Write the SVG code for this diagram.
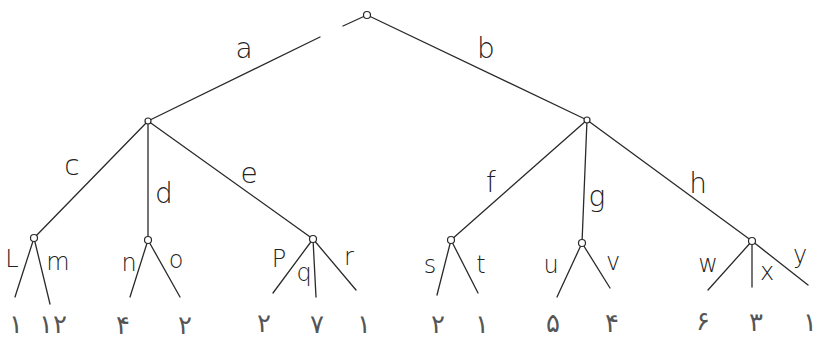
<svg xmlns="http://www.w3.org/2000/svg" width="819" height="339" viewBox="0 0 819 339">
<style>
.e{stroke:#2a2a2a;stroke-width:1.3;fill:none;stroke-linecap:round}
.n{fill:#fff;stroke:#2a2a2a;stroke-width:1.2}
.lb{font-family:"DejaVu Sans","Liberation Sans",sans-serif;font-weight:200;fill:#222;text-anchor:middle}
.el{font-size:28px}
.sl{font-size:24px}
.dg{font-family:"DejaVu Sans",sans-serif;font-weight:400;font-size:26px;fill:#555}
</style>
<rect width="819" height="339" fill="#fff"/>
<g id="connectors">
<line class="e" x1="367" y1="15" x2="343" y2="26"/>
<line class="e" x1="320" y1="37" x2="148" y2="121"/>
<line class="e" x1="367" y1="15" x2="587" y2="120"/>
<line class="e" x1="148" y1="121" x2="34" y2="238"/>
<line class="e" x1="148" y1="121" x2="148" y2="240"/>
<line class="e" x1="148" y1="121" x2="313" y2="239"/>
<line class="e" x1="587" y1="120" x2="451" y2="240"/>
<line class="e" x1="587" y1="120" x2="582" y2="243"/>
<line class="e" x1="587" y1="120" x2="752" y2="241"/>
<line class="e" x1="34" y1="238" x2="15" y2="297"/>
<line class="e" x1="34" y1="238" x2="50" y2="304"/>
<line class="e" x1="148" y1="240" x2="130" y2="297"/>
<line class="e" x1="148" y1="240" x2="180" y2="297"/>
<line class="e" x1="313" y1="239" x2="273" y2="293"/>
<line class="e" x1="313" y1="239" x2="316" y2="297"/>
<line class="e" x1="313" y1="239" x2="356" y2="290"/>
<line class="e" x1="451" y1="240" x2="437" y2="295"/>
<line class="e" x1="451" y1="240" x2="478" y2="293"/>
<line class="e" x1="582" y1="243" x2="557" y2="297"/>
<line class="e" x1="582" y1="243" x2="610" y2="288"/>
<line class="e" x1="752" y1="241" x2="708" y2="290"/>
<line class="e" x1="752" y1="241" x2="752" y2="287"/>
<line class="e" x1="752" y1="241" x2="808" y2="285"/>
<g class="lb el">
<text x="244" y="58">a</text>
<text x="486" y="58">b</text>
<text x="72" y="175">c</text>
<text x="164" y="203">d</text>
<text x="249" y="183">e</text>
<text x="491" y="192">f</text>
<text x="597" y="206">g</text>
<text x="698" y="193">h</text>
</g>
<g class="lb sl">
<text x="12" y="267">L</text>
<text x="58" y="270">m</text>
<text x="129" y="271">n</text>
<text x="176" y="268">o</text>
<text x="279" y="267">P</text>
<text x="304" y="281">q</text>
<text x="349" y="265">r</text>
<text x="430" y="273">s</text>
<text x="481" y="273">t</text>
<text x="551" y="273">u</text>
<text x="613" y="270">v</text>
<text x="708" y="272">w</text>
<text x="767" y="280">x</text>
<text x="800" y="263">y</text>
</g>
</g>
<g id="root"><circle class="n" cx="367" cy="15" r="3.5"/></g>
<g id="node-a"><circle class="n" cx="148" cy="121" r="3"/></g>
<g id="node-b"><circle class="n" cx="587" cy="120" r="3"/></g>
<g id="node-c"><circle class="n" cx="34" cy="238" r="3.5"/></g>
<g id="node-d"><circle class="n" cx="148" cy="240" r="3.5"/></g>
<g id="node-e"><circle class="n" cx="313" cy="239" r="3.5"/></g>
<g id="node-f"><circle class="n" cx="451" cy="240" r="3.5"/></g>
<g id="node-g"><circle class="n" cx="582" cy="243" r="3.5"/></g>
<g id="node-h"><circle class="n" cx="752" cy="241" r="3.5"/></g>
<g class="lb dg">
<g id="leaf-l"><text x="16" y="333">۱</text></g>
<g id="leaf-m"><text x="53" y="333">۱۲</text></g>
<g id="leaf-n"><text x="123" y="334">۴</text></g>
<g id="leaf-o"><text x="185" y="334">۲</text></g>
<g id="leaf-p"><text x="264" y="332">۲</text></g>
<g id="leaf-q"><text x="317" y="333">۷</text></g>
<g id="leaf-r"><text x="364" y="333">۱</text></g>
<g id="leaf-s"><text x="438" y="333">۲</text></g>
<g id="leaf-t"><text x="482" y="333">۱</text></g>
<g id="leaf-u"><text x="553" y="332">۵</text></g>
<g id="leaf-v"><text x="612" y="332">۴</text></g>
<g id="leaf-w"><text x="703" y="330">۶</text></g>
<g id="leaf-x"><text x="756" y="331">۳</text></g>
<g id="leaf-y"><text x="810" y="331">۱</text></g>
</g>
</svg>
